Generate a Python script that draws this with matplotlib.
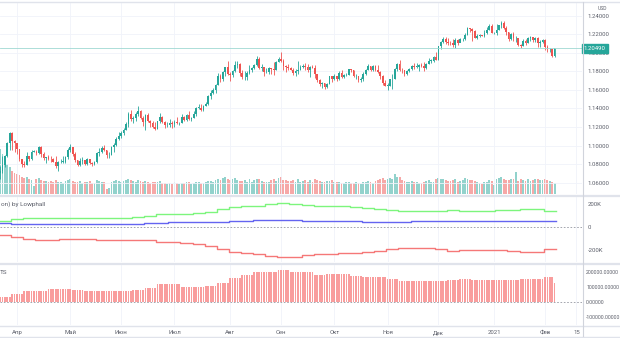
import numpy as np
import matplotlib.pyplot as plt

plt.rcParams["font.family"] = ["Roboto", "DejaVu Sans"]

# EUR/USD daily candles, 23 Mar 2020 - 5 Feb 2021 (46 weeks of weekdays)
first_open = 1.0700
closes = [
    1.0720, 1.0790, 1.0885, 1.1030, 1.1140, 1.1045, 1.1030, 1.0960, 1.0855, 1.0805,
    1.0795, 1.0890, 1.0860, 1.0935, 1.0935, 1.0915, 1.0985, 1.0910, 1.0865, 1.0875,
    1.0860, 1.0855, 1.0825, 1.0780, 1.0820, 1.0825, 1.0825, 1.0875, 1.0955, 1.0980,
    1.0905, 1.0840, 1.0795, 1.0830, 1.0840, 1.0805, 1.0850, 1.0815, 1.0805, 1.0820,
    1.0915, 1.0925, 1.0975, 1.0950, 1.0900, 1.0900, 1.0980, 1.1010, 1.1075, 1.1100,
    1.1135, 1.1170, 1.1235, 1.1340, 1.1290, 1.1295, 1.1340, 1.1370, 1.1300, 1.1255,
    1.1330, 1.1265, 1.1245, 1.1205, 1.1180, 1.1260, 1.1310, 1.1250, 1.1220, 1.1220,
    1.1245, 1.1235, 1.1250, 1.1240, 1.1245, 1.1310, 1.1275, 1.1330, 1.1285, 1.1300,
    1.1340, 1.1410, 1.1410, 1.1380, 1.1430, 1.1445, 1.1530, 1.1570, 1.1595, 1.1655,
    1.1750, 1.1715, 1.1790, 1.1845, 1.1775, 1.1760, 1.1800, 1.1865, 1.1875, 1.1785,
    1.1735, 1.1740, 1.1785, 1.1815, 1.1840, 1.1870, 1.1930, 1.1835, 1.1845, 1.1795,
    1.1795, 1.1835, 1.1830, 1.1820, 1.1905, 1.1935, 1.1915, 1.1855, 1.1850, 1.1835,
    1.1815, 1.1780, 1.1800, 1.1815, 1.1845, 1.1860, 1.1845, 1.1815, 1.1850, 1.1840,
    1.1770, 1.1705, 1.1660, 1.1670, 1.1630, 1.1665, 1.1745, 1.1720, 1.1750, 1.1715,
    1.1780, 1.1735, 1.1760, 1.1760, 1.1825, 1.1815, 1.1745, 1.1745, 1.1705, 1.1715,
    1.1770, 1.1820, 1.1860, 1.1815, 1.1860, 1.1810, 1.1795, 1.1745, 1.1675, 1.1645,
    1.1645, 1.1715, 1.1720, 1.1825, 1.1875, 1.1815, 1.1810, 1.1775, 1.1805, 1.1830,
    1.1855, 1.1850, 1.1850, 1.1870, 1.1860, 1.1840, 1.1885, 1.1915, 1.1915, 1.1960,
    1.1925, 1.2070, 1.2115, 1.2145, 1.2120, 1.2110, 1.2105, 1.2080, 1.2135, 1.2110,
    1.2145, 1.2150, 1.2195, 1.2265, 1.2255, 1.2240, 1.2165, 1.2185, 1.2190, 1.2185,
    1.2215, 1.2245, 1.2295, 1.2215, 1.2215, 1.2250, 1.2300, 1.2325, 1.2270, 1.2220,
    1.2150, 1.2205, 1.2155, 1.2155, 1.2080, 1.2075, 1.2130, 1.2105, 1.2165, 1.2170,
    1.2140, 1.2160, 1.2110, 1.2115, 1.2135, 1.2060, 1.2040, 1.2040, 1.1965, 1.2049,
]
highs = [
    1.0775, 1.0890, 1.0895, 1.1035, 1.1148, 1.1145, 1.1055, 1.1030, 1.0965, 1.0860,
    1.0830, 1.0925, 1.0890, 1.0950, 1.0950, 1.0955, 1.0990, 1.0990, 1.0925, 1.0880,
    1.0895, 1.0890, 1.0870, 1.0890, 1.0830, 1.0860, 1.0890, 1.0885, 1.0975, 1.1019,
    1.0975, 1.0925, 1.0845, 1.0865, 1.0875, 1.0845, 1.0870, 1.0860, 1.0825, 1.0830,
    1.0925, 1.0975, 1.0995, 1.1010, 1.0955, 1.0925, 1.0995, 1.1030, 1.1095, 1.1145,
    1.1155, 1.1185, 1.1255, 1.1360, 1.1385, 1.1315, 1.1365, 1.1422, 1.1385, 1.1320,
    1.1340, 1.1355, 1.1275, 1.1260, 1.1255, 1.1270, 1.1350, 1.1320, 1.1260, 1.1250,
    1.1290, 1.1265, 1.1275, 1.1305, 1.1255, 1.1345, 1.1315, 1.1345, 1.1370, 1.1310,
    1.1375, 1.1415, 1.1450, 1.1450, 1.1440, 1.1470, 1.1545, 1.1600, 1.1625, 1.1660,
    1.1780, 1.1770, 1.1805, 1.1850, 1.1908, 1.1795, 1.1815, 1.1915, 1.1915, 1.1890,
    1.1810, 1.1805, 1.1800, 1.1865, 1.1850, 1.1885, 1.1966, 1.1950, 1.1885, 1.1850,
    1.1840, 1.1850, 1.1840, 1.1900, 1.1915, 1.1950, 1.2011, 1.1935, 1.1865, 1.1885,
    1.1845, 1.1835, 1.1830, 1.1915, 1.1870, 1.1885, 1.1890, 1.1880, 1.1860, 1.1870,
    1.1870, 1.1775, 1.1720, 1.1690, 1.1675, 1.1680, 1.1750, 1.1755, 1.1775, 1.1750,
    1.1805, 1.1810, 1.1770, 1.1780, 1.1830, 1.1830, 1.1815, 1.1770, 1.1750, 1.1735,
    1.1795, 1.1830, 1.1880, 1.1860, 1.1870, 1.1870, 1.1870, 1.1800, 1.1765, 1.1710,
    1.1675, 1.1720, 1.1770, 1.1840, 1.1890, 1.1920, 1.1835, 1.1820, 1.1815, 1.1840,
    1.1870, 1.1895, 1.1890, 1.1875, 1.1890, 1.1905, 1.1895, 1.1940, 1.1935, 1.1965,
    1.2005, 1.2075, 1.2125, 1.2175, 1.2175, 1.2165, 1.2130, 1.2145, 1.2165, 1.2145,
    1.2160, 1.2160, 1.2210, 1.2275, 1.2270, 1.2270, 1.2250, 1.2200, 1.2200, 1.2195,
    1.2250, 1.2275, 1.2310, 1.2310, 1.2225, 1.2310, 1.2305, 1.2349, 1.2340, 1.2285,
    1.2225, 1.2210, 1.2220, 1.2180, 1.2160, 1.2095, 1.2145, 1.2150, 1.2175, 1.2180,
    1.2175, 1.2170, 1.2170, 1.2135, 1.2150, 1.2150, 1.2085, 1.2055, 1.2045, 1.2050,
]
lows = [
    1.0636, 1.0700, 1.0770, 1.0880, 1.0950, 1.0955, 1.0930, 1.0905, 1.0835, 1.0770,
    1.0770, 1.0790, 1.0830, 1.0840, 1.0925, 1.0900, 1.0905, 1.0880, 1.0840, 1.0815,
    1.0840, 1.0820, 1.0820, 1.0755, 1.0727, 1.0810, 1.0815, 1.0810, 1.0855, 1.0935,
    1.0890, 1.0820, 1.0782, 1.0775, 1.0805, 1.0795, 1.0790, 1.0800, 1.0775, 1.0785,
    1.0815, 1.0885, 1.0915, 1.0945, 1.0870, 1.0870, 1.0895, 1.0935, 1.0990, 1.1065,
    1.1085, 1.1115, 1.1165, 1.1200, 1.1270, 1.1245, 1.1270, 1.1315, 1.1290, 1.1215,
    1.1170, 1.1250, 1.1205, 1.1190, 1.1170, 1.1175, 1.1245, 1.1240, 1.1185, 1.1195,
    1.1205, 1.1190, 1.1200, 1.1235, 1.1220, 1.1245, 1.1265, 1.1265, 1.1275, 1.1260,
    1.1300, 1.1320, 1.1390, 1.1370, 1.1375, 1.1425, 1.1440, 1.1505, 1.1560, 1.1570,
    1.1650, 1.1690, 1.1700, 1.1755, 1.1760, 1.1695, 1.1735, 1.1790, 1.1835, 1.1755,
    1.1720, 1.1710, 1.1710, 1.1775, 1.1790, 1.1830, 1.1860, 1.1825, 1.1800, 1.1755,
    1.1780, 1.1770, 1.1770, 1.1760, 1.1815, 1.1900, 1.1900, 1.1820, 1.1790, 1.1815,
    1.1810, 1.1765, 1.1755, 1.1770, 1.1810, 1.1835, 1.1820, 1.1790, 1.1735, 1.1835,
    1.1725, 1.1685, 1.1645, 1.1625, 1.1612, 1.1625, 1.1665, 1.1685, 1.1710, 1.1695,
    1.1710, 1.1730, 1.1730, 1.1745, 1.1760, 1.1790, 1.1735, 1.1720, 1.1690, 1.1690,
    1.1700, 1.1765, 1.1815, 1.1805, 1.1800, 1.1805, 1.1780, 1.1720, 1.1650, 1.1640,
    1.1603, 1.1640, 1.1605, 1.1715, 1.1800, 1.1800, 1.1780, 1.1745, 1.1760, 1.1795,
    1.1815, 1.1825, 1.1835, 1.1800, 1.1845, 1.1800, 1.1830, 1.1880, 1.1895, 1.1905,
    1.1925, 1.1925, 1.2040, 1.2105, 1.2100, 1.2090, 1.2090, 1.2060, 1.2050, 1.2085,
    1.2120, 1.2125, 1.2140, 1.2190, 1.2220, 1.2130, 1.2155, 1.2150, 1.2175, 1.2180,
    1.2170, 1.2200, 1.2245, 1.2210, 1.2205, 1.2190, 1.2245, 1.2265, 1.2255, 1.2190,
    1.2130, 1.2140, 1.2130, 1.2115, 1.2070, 1.2055, 1.2070, 1.2080, 1.2105, 1.2130,
    1.2115, 1.2115, 1.2060, 1.2060, 1.2105, 1.2035, 1.2010, 1.2010, 1.1955, 1.1950,
]
volumes = [
    450, 400, 350, 300, 270, 230, 210, 200, 190, 170,
    160, 170, 150, 140, 80, 150, 160, 140, 135, 130,
    120, 130, 120, 140, 120, 120, 110, 130, 140, 150,
    130, 120, 120, 130, 110, 120, 120, 130, 115, 110,
    140, 130, 120, 120, 50, 60, 120, 130, 140, 130,
    120, 130, 140, 150, 140, 130, 120, 140, 130, 120,
    130, 120, 110, 120, 125, 120, 130, 115, 110, 100,
    110, 105, 120, 115, 100, 115, 110, 120, 125, 105,
    110, 120, 125, 115, 110, 120, 130, 135, 125, 140,
    150, 145, 160, 170, 150, 140, 150, 160, 145, 130,
    130, 140, 125, 150, 120, 140, 155, 150, 130, 125,
    120, 125, 140, 150, 135, 160, 170, 145, 140, 135,
    130, 140, 120, 150, 125, 130, 140, 120, 145, 125,
    150, 140, 130, 125, 120, 130, 135, 140, 125, 120,
    120, 115, 110, 125, 120, 110, 115, 120, 110, 100,
    120, 125, 135, 120, 115, 130, 140, 150, 160, 140,
    150, 160, 150, 200, 170, 175, 140, 135, 125, 120,
    130, 125, 120, 110, 115, 120, 130, 140, 120, 125,
    150, 160, 155, 150, 140, 130, 135, 140, 150, 125,
    130, 140, 160, 150, 145, 140, 135, 125, 110, 100,
    120, 125, 140, 130, 90, 150, 160, 170, 150, 145,
    140, 150, 155, 220, 135, 150, 140, 130, 150, 135,
    140, 150, 155, 145, 140, 150, 140, 130, 120, 110,
]

# weekly COT values (46 weeks)
cot_green = [50e3, 70e3, 78e3, 80e3, 79e3, 80e3, 81e3, 80e3, 79e3, 78e3,
             78e3, 85e3, 100e3, 110e3, 112e3, 117e3, 120e3, 130e3, 155e3, 172e3,
             180e3, 186e3, 200e3, 208e3, 200e3, 191e3, 186e3, 186e3, 183e3, 174e3,
             165e3, 157e3, 148e3, 139e3, 135e3, 135e3, 139e3, 152e3, 139e3, 139e3,
             143e3, 148e3, 152e3, 157e3, 161e3, 139e3]
cot_blue = [35e3, 26e3, 22e3, 22e3, 22e3, 23e3, 23e3, 24e3, 25e3, 25e3,
            26e3, 30e3, 35e3, 39e3, 40e3, 42e3, 44e3, 45e3, 48e3, 52e3,
            56e3, 61e3, 65e3, 65e3, 61e3, 56e3, 52e3, 52e3, 50e3, 50e3,
            48e3, 48e3, 46e3, 46e3, 50e3, 50e3, 50e3, 50e3, 50e3, 50e3,
            50e3, 55e3, 55e3, 55e3, 55e3, 50e3]
cot_red = [-70e3, -87e3, -104e3, -109e3, -110e3, -108e3, -107e3, -108e3, -110e3, -112e3,
           -113e3, -112e3, -117e3, -126e3, -130e3, -139e3, -148e3, -161e3, -191e3, -217e3,
           -230e3, -235e3, -252e3, -261e3, -257e3, -243e3, -235e3, -235e3, -226e3, -222e3,
           -217e3, -209e3, -191e3, -183e3, -183e3, -183e3, -187e3, -209e3, -200e3, -200e3,
           -200e3, -200e3, -209e3, -217e3, -217e3, -191e3]
cot_hist = [33e3, 53e3, 73e3, 75e3, 85e3, 87e3, 80e3, 77e3, 76e3, 75e3,
            76e3, 78e3, 93e3, 120e3, 120e3, 100e3, 100e3, 107e3, 127e3, 160e3,
            180e3, 200e3, 200e3, 213e3, 200e3, 200e3, 180e3, 187e3, 187e3, 173e3,
            167e3, 167e3, 153e3, 140e3, 140e3, 140e3, 143e3, 147e3, 153e3, 147e3,
            147e3, 147e3, 147e3, 153e3, 153e3, 167e3]
cot_hist_last = 127e3

month_ticks = [7, 29, 50, 72, 95, 116, 138, 160, 181, 204, 225, 238]
month_labels = ["Апр", "Май", "Июн", "Июл", "Авг", "Сен", "Окт", "Ноя", "Дек", "2021", "Фев", "15"]
price_ticks = [1.06, 1.08, 1.10, 1.12, 1.14, 1.16, 1.18, 1.20, 1.22, 1.24]
last_price = 1.2049

UP, DOWN = "#26a69a", "#ef5350"
GRID = "#f0f3fa"
TXT = "#5d606b"
FS = 4.3

closes = np.array(closes)
highs = np.array(highs)
lows = np.array(lows)
opens = np.r_[first_open, closes[:-1]]
idx = np.arange(len(closes))
up = closes >= opens
colors = np.where(up, UP, DOWN)

fig = plt.figure(figsize=(6.2, 3.38), dpi=100)
W = 582 / 620
ax = fig.add_axes([0, 1 - 194 / 338, W, 191 / 338])
ax_ind = fig.add_axes([0, 1 - 262 / 338, W, 65 / 338])
ax_h = fig.add_axes([0, 1 - 325 / 338, W, 60 / 338])

# volume sits on a twin axis under the candles
axv = ax.twinx()
axv.set_ylim(0, 1930)
axv.axis("off")
axv.bar(idx, volumes, width=0.75, color=colors, alpha=0.5, lw=0)
ax.set_zorder(axv.get_zorder() + 1)
ax.patch.set_visible(False)

for a in (ax, ax_ind, ax_h):
    a.set_xlim(-0.02, 240.3)
    for s in a.spines.values():
        s.set_visible(False)
    a.yaxis.tick_right()
    a.tick_params(axis="y", length=0, pad=4, labelsize=FS, labelcolor=TXT)
    a.tick_params(axis="x", length=0)
    a.set_xticks(month_ticks)
    a.grid(True, color=GRID, lw=0.6)
    a.set_axisbelow(True)
axv.set_xlim(-0.02, 240.3)

# main panel candles
ax.set_ylim(1.0477, 1.2538)
ax.set_yticks(price_ticks)
ax.set_yticklabels([f"{p:.5f}" for p in price_ticks])
ax.set_xticklabels([])
ax.vlines(idx, lows, highs, colors=colors, lw=0.6)
body_lo = np.minimum(opens, closes)
body_h = np.maximum(np.abs(closes - opens), 0.0003)
ax.bar(idx, body_h, bottom=body_lo, width=0.7, color=colors, lw=0)
ax.axhline(last_price, color="#9fd8d2", lw=0.6)
ax.text(1.003, last_price, f"{last_price:.5f}", transform=ax.get_yaxis_transform(),
        fontsize=FS, color="white", va="center", ha="left",
        bbox=dict(boxstyle="square,pad=0.35", fc=UP, ec=UP))
ax.text(1.027, 0.965, "USD", transform=ax.transAxes, fontsize=3.6, color=TXT, ha="left")

# COT lines panel
wx = np.arange(len(cot_green) + 1) * 5
ax_ind.set_ylim(-304e3, 261e3)
ax_ind.set_yticks([-200e3, 0, 200e3])
ax_ind.set_yticklabels(["-200K", "0", "200K"])
ax_ind.set_xticklabels([])
ax_ind.grid(True, axis="y", color="none")
ax_ind.axhline(0, color="#9598a1", lw=0.6, dashes=(2, 2))
ax_ind.plot(wx - 0.5, cot_green + cot_green[-1:], drawstyle="steps-post", color="#7df57d", lw=1)
ax_ind.plot(wx - 0.5, cot_blue + cot_blue[-1:], drawstyle="steps-post", color="#6464f0", lw=1)
ax_ind.plot(wx - 0.5, cot_red + cot_red[-1:], drawstyle="steps-post", color="#f57878", lw=1)
ax_ind.text(0.002, 0.93, "on) by Lowphall", transform=ax_ind.transAxes, fontsize=4.6, color=TXT, va="top")

# COT histogram panel
hist = np.repeat(cot_hist, 5)
hist[-1] = cot_hist_last
ax_h.set_ylim(-153e3, 247e3)
hist_ticks = [-100000, 0, 100000, 200000]
ax_h.set_yticks(hist_ticks)
ax_h.set_yticklabels([f"{t:.5f}" for t in hist_ticks])
ax_h.tick_params(axis="y", labelsize=3.7, pad=3)
ax_h.grid(True, axis="y", color="none")
ax_h.axhline(0, color="#9598a1", lw=0.6, dashes=(2, 2))
ax_h.bar(np.arange(len(hist)), hist, width=0.7, color="#f77c7c", alpha=0.75, lw=0)
ax_h.set_xticklabels(month_labels)
ax_h.tick_params(axis="x", labelsize=FS, labelcolor=TXT, pad=3.5)
ax_h.text(0.0, 0.92, "TS", transform=ax_h.transAxes, fontsize=4.6, color=TXT, va="top")

# panel separators and price-scale border
for y in (2, 195.5, 263.5, 326, 336.5):
    fig.add_artist(plt.Line2D([0, 1], [1 - y / 338] * 2, color="#e0e3eb",
                              lw=1.6 if y in (195.5, 263.5) else 1))
fig.add_artist(plt.Line2D([W + 0.001] * 2, [1 - 336 / 338, 1 - 2 / 338], color="#d1d4dc", lw=0.8))

fig.savefig("out.png", dpi=100)
